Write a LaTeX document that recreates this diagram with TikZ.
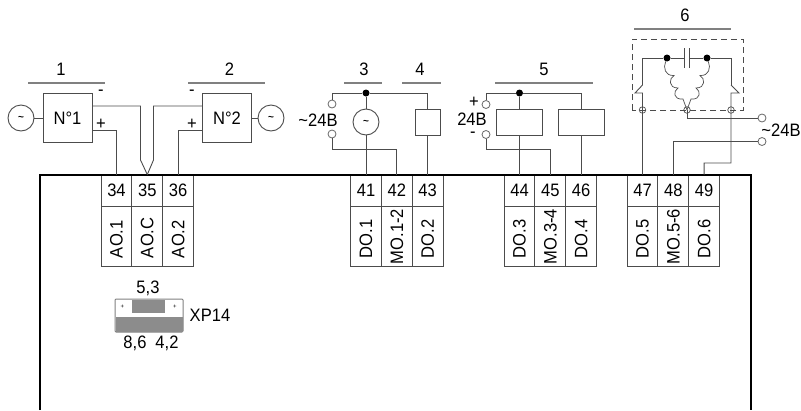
\documentclass[tikz,border=0pt]{standalone}
\usepackage{fontspec}
\setmainfont{Liberation Sans}
\newfontfamily\lblfont[FakeStretch=0.92]{Liberation Sans}
\tikzset{
wire/.style={draw=black!70, line width=0.9pt},
rule/.style={draw=black!50, line width=1.2pt},
frame/.style={draw=black, line width=2pt},
lbl/.style={font=\lblfont\fontsize{18}{18}\selectfont, inner sep=0pt},
cell/.style={wire, lbl, text=black, minimum width=30.8pt, minimum height=31pt},
sig/.style={wire, lbl, text=black, rotate=90, minimum width=60pt, minimum height=30.8pt, text width=60pt, align=left},
box/.style={wire, lbl, text=black, minimum width=49pt, minimum height=49pt},
relay/.style={wire, minimum height=26pt, inner sep=0pt},
src/.style={wire, circle, fill=white, text=black, minimum size=26pt, inner sep=0pt, font=\bfseries},
term/.style={draw=black!60, line width=0.8pt, circle, fill=white, minimum size=8pt, inner sep=0pt},
jct/.style={draw=black!70, line width=0.7pt, circle, minimum size=6.5pt, inner sep=0pt},
dot/.style={fill=black, circle, minimum size=7pt, inner sep=0pt},
}
\begin{document}
\begin{tikzpicture}[x=1pt, y=-1pt]
\useasboundingbox (0,0) rectangle (801,410);
% terminals
\foreach \num/\txt/\xx/\pad in {34/AO.1/116.5/8, 35/AO.C/147.3/8, 36/AO.2/178.1/8, 41/DO.1/366/8, 42/MO.1-2/396.8/2, 43/DO.2/427.6/8, 44/DO.3/519.5/8, 45/MO.3-4/550.3/2, 46/DO.4/581.1/8, 47/DO.5/642.5/8, 48/MO.5-6/673.3/2, 49/DO.6/704.1/8}{
\node[cell] (t\num) at (\xx,190.5) {\num};
\node[sig] (s\num) at (\xx,236) {\hspace*{\pad pt}\mbox{\txt}};
}
\draw[frame] (39.5,410) |- (750.5,175) -- (750.5,410);
% titles
\foreach \num/\xx/\xa/\xb/\yy in {1/61/28/105/83, 2/229.5/188/265/83, 3/364/344/382/83, 4/420/402/441/83, 5/544/495/593/83, 6/685/634/731/29}{
\node[lbl] (ttl\num) at (\xx,\yy-14) {\num};
\draw[rule] (\xa,\yy) -- (\xb,\yy);
}
% analog outputs
\node[box] (n1) at (67.5,118) {N°1};
\node[box] (n2) at (227,118) {N°2};
\node[src] (ac1) at (21,118) {\textasciitilde};
\node[src] (ac2) at (271,118) {\textasciitilde};
\draw[wire] (ac1) -- (n1);
\draw[wire] (ac2) -- (n2);
\draw[wire] (n1.east|-0,106) -| (140.5,160) -- (t35.north);
\draw[wire] (n2.west|-0,106) -| (153.5,160) -- (t35.north);
\draw[wire] (n1.east|-0,130) -| (t34.north);
\draw[wire] (n2.west|-0,130) -| (t36.north);
\node[lbl] (m1) at (101,93) {-};
\node[lbl] (p1) at (101,124) {+};
\node[lbl] (m2) at (192,93) {-};
\node[lbl] (p2) at (192,124) {+};
% outputs 3 and 4
\node[dot] (d3) at (366,93) {};
\node[term] (a3) at (332,104) {};
\node[term] (b3) at (332,134) {};
\node[lbl] (v3) at (318,120) {\textasciitilde 24B};
\node[src] (ac3) at (366,122) {\textasciitilde};
\node[relay, minimum width=25pt] (r4) at (427.6,122) {};
\draw[wire] (a3.north) |- (d3) -| (r4.north);
\draw[wire] (d3) -- (ac3);
\draw[wire] (ac3) -- (t41.north);
\draw[wire] (r4) -- (t43.north);
\draw[wire] (b3.south) |- (396.8,149.5) -- (t42.north);
% outputs 5
\node[dot] (d5) at (519.5,93) {};
\node[term] (a5) at (486,104.5) {};
\node[term] (b5) at (486,134.5) {};
\node[lbl] (p5) at (474,102) {+};
\node[lbl] (v5) at (472,119.5) {24B};
\node[lbl] (m5) at (473,135) {-};
\node[relay, minimum width=46pt] (r5) at (519.5,122) {};
\node[relay, minimum width=46pt] (r6) at (581.1,122) {};
\draw[wire] (a5.north) |- (d5) -| (r6.north);
\draw[wire] (d5) -- (r5);
\draw[wire] (r5) -- (t44.north);
\draw[wire] (r6) -- (t46.north);
\draw[wire] (b5.south) |- (550.3,149.5) -- (t45.north);
% output 6
\draw[dashed, dash pattern=on 6pt off 4pt, wire] (632,110) |- (743,39) -- (743,110) -- cycle;
\node[dot] (d6a) at (667,58) {};
\node[dot] (d6b) at (707,58) {};
\node[jct] (j1) at (642.5,110) {};
\node[jct] (j2) at (687,110) {};
\node[jct] (j3) at (731,110) {};
\node[term] (a6) at (762,118) {};
\node[term] (b6) at (762,141.5) {};
\node[lbl] (v6) at (781,130) {\textasciitilde 24B};
\draw[wire] (642.5,85) |- (d6a) -- (684.5,58);
\draw[wire] (731,85) |- (d6b) -- (689.5,58);
\draw[wire] (684.5,48) -- (684.5,68);
\draw[wire] (689.5,48) -- (689.5,68);
\draw[wire] (642.5,85) -- (635,93) -- (642.5,93) -- (t47.north);
\draw[wire] (731,85) -- (739,93) -- (731,93) -- (731,163) -| (t49.north);
\draw[wire] (j2.center) |- (a6.west);
\draw[wire] (t48.north) |- (b6.west);
\draw[wire, line width=0.7pt] (d6a) .. controls (663,68) and (665,76) .. (674,75.5) .. controls (669,78) and (668,88) .. (678,88) .. controls (673,91) and (673,100) .. (683,99) -- (j2.center);
\draw[wire, line width=0.7pt] (d6b) .. controls (711,68) and (709,76) .. (700,75.5) .. controls (705,78) and (706,88) .. (696,88) .. controls (701,91) and (701,100) .. (691,99) -- (j2.center);
% jumper
\node[draw=black!50, line width=1pt, rounded corners=1pt, minimum width=68pt, minimum height=33pt, inner sep=0pt] (xp) at (149,315.5) {};
\node[fill=black!45, minimum width=33pt, minimum height=13pt, inner sep=0pt] (xpa) at (148.5,306.5) {};
\node[fill=black!45, minimum width=67pt, minimum height=15pt, inner sep=0pt] (xpb) at (149,324.5) {};
\node[font=\fontsize{6}{6}\selectfont, inner sep=0pt] (xpp) at (122.5,306.5) {+};
\node[font=\fontsize{6}{6}\selectfont, inner sep=0pt] (xpq) at (175,306.5) {+};
\node[lbl] (x53) at (148,288) {5,3};
\node[lbl] (x86) at (135,343) {8,6};
\node[lbl] (x42) at (167,343) {4,2};
\node[lbl] (xn) at (210,315) {XP14};
\end{tikzpicture}
\end{document}
